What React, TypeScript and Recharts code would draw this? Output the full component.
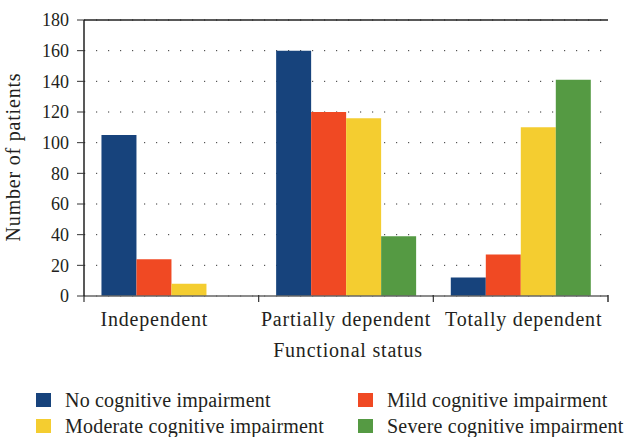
import React from "react";
import { BarChart, Bar, XAxis, YAxis, CartesianGrid, ReferenceLine, Label } from "recharts";

const categories = ["Independent", "Partially dependent", "Totally dependent"];
const noImpairment = [105, 160, 12];
const mildImpairment = [24, 120, 27];
const moderateImpairment = [8, 116, 110];
const severeImpairment = [0, 39, 141];
const yTicks = [0, 20, 40, 60, 80, 100, 120, 140, 160, 180];

const seriesNames = [
  "No cognitive impairment",
  "Mild cognitive impairment",
  "Moderate cognitive impairment",
  "Severe cognitive impairment",
];
const seriesKeys = ["none", "mild", "moderate", "severe"];
const colors = ["#17437c", "#f04923", "#f4cd30", "#559a43"];

const data = categories.map((c, i) => ({
  category: c,
  none: noImpairment[i],
  mild: mildImpairment[i],
  moderate: moderateImpairment[i],
  severe: severeImpairment[i],
}));

const FONT = "'Liberation Serif', 'DejaVu Serif', serif";
const TEXT = "#231f20";
// offset of each category label from the centre of its band
const labelShift = [-17, 0, 3];

const CatTick = (props: any) => {
  const { x, y, payload, index, width, visibleTicksCount } = props;
  const count = visibleTicksCount || categories.length;
  const half = (width || 524) / count / 2;
  const axisY = y - 2;
  const isLast = index === count - 1;
  return (
    <g>
      <line x1={x - half} x2={x - half} y1={axisY - 1} y2={axisY + 6} stroke="#333" strokeWidth={1.2} />
      {isLast && (
        <line x1={x + half} x2={x + half} y1={axisY - 1} y2={axisY + 6} stroke="#333" strokeWidth={1.5} />
      )}
      <text
        x={x + labelShift[index]}
        y={axisY + 30}
        textAnchor="middle"
        fontFamily={FONT}
        fontSize={20}
        letterSpacing={0.8}
        fill={TEXT}
      >
        {payload.value}
      </text>
    </g>
  );
};

export default function App() {
  return (
    <div style={{ position: "absolute", left: 0, top: 0, width: 632, height: 437, background: "#fff" }}>
      <BarChart
        width={632}
        height={437}
        data={data}
        margin={{ top: 20, right: 24, left: 0, bottom: 0 }}
        barCategoryGap="10%"
        barGap={0}
      >
        <CartesianGrid vertical={false} stroke="#333" strokeDasharray="1.2 10.8" />
        <XAxis
          dataKey="category"
          height={141}
          tickLine={false}
          tickSize={0}
          tickMargin={2}
          axisLine={{ stroke: "#666", strokeWidth: 1.5 }}
          tick={<CatTick />}
          interval={0}
        >
          <Label
            content={() => (
              <text
                x={348}
                y={357}
                textAnchor="middle"
                fontFamily={FONT}
                fontSize={20}
                letterSpacing={0.8}
                fill={TEXT}
              >
                Functional status
              </text>
            )}
          />
        </XAxis>
        <YAxis
          width={84}
          domain={[0, 180]}
          ticks={yTicks}
          interval={0}
          tickSize={7}
          tickMargin={8}
          tickLine={{ stroke: "#333" }}
          axisLine={{ stroke: "#222", strokeWidth: 1.5 }}
          tick={{ fontFamily: FONT, fontSize: 18, fill: TEXT }}
        >
          <Label
            content={() => (
              <text
                x={0}
                y={0}
                transform="translate(20,157) rotate(-90)"
                textAnchor="middle"
                fontFamily={FONT}
                fontSize={20}
                letterSpacing={0.8}
                fill={TEXT}
              >
                Number of patients
              </text>
            )}
          />
        </YAxis>
        <YAxis
          yAxisId="right"
          orientation="right"
          width={0}
          domain={[0, 180]}
          tick={false}
          tickLine={false}
          axisLine={{ stroke: "#222", strokeWidth: 1.5 }}
        />
        <ReferenceLine y={180} stroke="#222" strokeWidth={1.5} />
        {seriesKeys.map((k, i) => (
          <Bar key={k} dataKey={k} name={seriesNames[i]} fill={colors[i]} isAnimationActive={false} />
        ))}
      </BarChart>
      <div
        style={{
          position: "absolute",
          left: 36,
          top: 387,
          display: "grid",
          gridTemplateColumns: "322px 274px",
          fontFamily: FONT,
          fontSize: 20,
          letterSpacing: 0.2,
          color: TEXT,
        }}
      >
        {seriesNames.map((n, i) => (
          <div key={n} style={{ display: "flex", alignItems: "center", height: 26, whiteSpace: "nowrap" }}>
            <span style={{ display: "inline-block", width: 15, height: 14, background: colors[i], marginRight: 14 }} />
            {n}
          </div>
        ))}
      </div>
    </div>
  );
}
